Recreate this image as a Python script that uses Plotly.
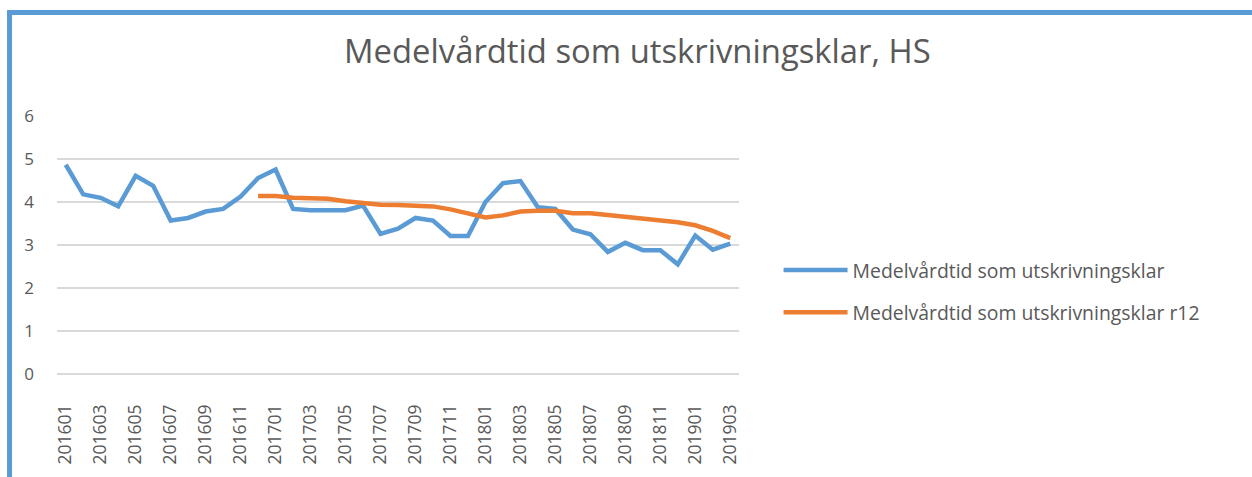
import plotly.graph_objects as go

months = [f"{y}{m:02d}" for y in (2016, 2017, 2018) for m in range(1, 13)] + ["201901", "201902", "201903"]

medelvardtid = [4.87, 4.18, 4.10, 3.90, 4.61, 4.38, 3.57, 3.63, 3.78, 3.84,
                4.13, 4.56, 4.76, 3.84, 3.81, 3.82, 3.81, 3.92, 3.26, 3.38,
                3.63, 3.57, 3.21, 3.21, 4.00, 4.44, 4.49, 3.88, 3.84, 3.36,
                3.25, 2.84, 3.05, 2.88, 2.88, 2.55, 3.22, 2.89, 3.03]

r12 = [None] * 11 + [4.14, 4.14, 4.10, 4.08, 4.08, 4.02, 3.97, 3.94, 3.93,
                     3.91, 3.90, 3.83, 3.73, 3.64, 3.69, 3.78, 3.80, 3.80,
                     3.74, 3.74, 3.70, 3.66, 3.61, 3.57, 3.53, 3.46, 3.33, 3.16]

tick_labels = months[::2]

name1 = "Medelvårdtid som utskrivningsklar"
name2 = "Medelvårdtid som utskrivningsklar r12"
title_text = "Medelvårdtid som utskrivningsklar, HS"

BLUE = "#5B9BD5"
ORANGE = "#ED7D31"
TEXT = "#595959"
GRID = "#D9D9D9"
FONT = "Open Sans"

fig = go.Figure()
fig.add_trace(go.Scatter(x=months, y=medelvardtid, mode="lines", name=name1,
                         line=dict(color=BLUE, width=4.5), legendgroup="a"))
fig.add_trace(go.Scatter(x=months, y=r12, mode="lines", name=name2,
                         line=dict(color=ORANGE, width=4.5), legendgroup="b"))

fig.update_layout(
    width=1252, height=477,
    margin=dict(l=57, r=513, t=116, b=103, autoexpand=False),
    paper_bgcolor="white", plot_bgcolor="white",
    font=dict(family=FONT, color=TEXT, size=17),
    title=dict(text=title_text, xref="paper", x=0.851, xanchor="center",
               yref="container", y=1 - 52 / 477, yanchor="middle",
               font=dict(size=32.8, color=TEXT, family=FONT)),
    showlegend=True,
    legend=dict(x=1.058, xanchor="left", y=0.32, yanchor="middle",
                font=dict(size=19.4, color=TEXT), itemwidth=64,
                tracegroupgap=14, bgcolor="rgba(0,0,0,0)"),
    xaxis=dict(type="category", categoryorder="array", categoryarray=months,
               range=[-0.5, len(months) - 0.5], automargin=False,
               tickmode="array", tickvals=tick_labels, ticktext=tick_labels,
               tickangle=-90, showgrid=False, showline=False, zeroline=False,
               ticks="", ticklabelstandoff=26,
               tickfont=dict(size=17.5, color=TEXT)),
    yaxis=dict(range=[-0.006, 6.006], tickvals=[0, 1, 2, 3, 4, 5, 6],
               showgrid=True, gridcolor=GRID, gridwidth=1.5,
               zeroline=True, zerolinecolor=GRID, zerolinewidth=1.5,
               showline=False, ticks="", automargin=False,
               ticklabelstandoff=22, tickfont=dict(size=17, color=TEXT)),
    shapes=[dict(type="rect", xref="paper", yref="paper",
                 x0=-0.0696, x1=2.0, y0=-1.0, y1=1.401,
                 line=dict(color=BLUE, width=5), fillcolor="rgba(0,0,0,0)",
                 layer="below")],
)

fig.write_html("out.html", config={"displayModeBar": False},
               post_script="document.body.style.margin='0';")
